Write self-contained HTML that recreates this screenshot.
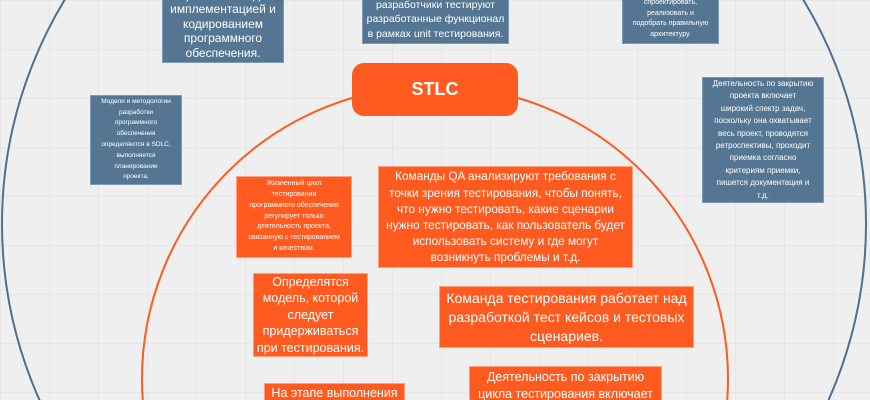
<!DOCTYPE html>
<html><head><meta charset="utf-8"><style>
html,body{margin:0;width:870px;height:400px;overflow:hidden}
body{background:#efefef;
background-image:linear-gradient(#e6e6e6 1px,transparent 1px),linear-gradient(90deg,#e6e6e6 1px,transparent 1px);background-size:49px 49px;
font-family:"Liberation Sans","DejaVu Sans",sans-serif;position:relative}
.b{position:absolute;box-sizing:border-box;color:#fff;text-align:center;display:flex;align-items:center;justify-content:center;overflow:hidden;white-space:nowrap}
.bl{background:#557693;border:1px solid #7f9ab3}
.or{background:#ff5a1f;border:1px solid #ffa07f}
svg{position:absolute;left:0;top:0}
</style></head><body>
<svg width="870" height="400">
<circle cx="434" cy="224" r="432" fill="none" stroke="#4f6f8f" stroke-width="2"/>
<circle cx="435" cy="379" r="293" fill="none" stroke="#ff5a1f" stroke-width="2"/>
</svg>
<div class="b bl" style="left:162px;top:-20px;width:122px;height:83px;font-size:12px;line-height:14.5px;align-items:flex-end;padding-bottom:2px">работает над<br>имплементацией и<br>кодированием<br>программного<br>обеспечения.</div>
<div class="b bl" style="left:362px;top:-10px;width:147px;height:54px;font-size:10.5px;line-height:14.5px;align-items:flex-end;padding-bottom:2px">разработчики тестируют<br>разработанные функционал<br>в рамках unit тестирования.</div>
<div class="b bl" style="left:622px;top:-10px;width:97px;height:54px;font-size:7px;line-height:10.5px;align-items:flex-end;padding-bottom:3px">спроектировать,<br>реализовать и<br>подобрать правильную<br>архитектуру.</div>
<div class="b bl" style="left:702px;top:77px;width:122px;height:126px;font-size:8px;line-height:12.4px">Деятельность по закрытию<br>проекта включает<br>широкий спектр задач,<br>поскольку она охватывает<br>весь проект, проводятся<br>ретроспективы, проходит<br>приемка согласно<br>критериям приемки,<br>пишется документация и<br>т.д.</div>
<div class="b bl" style="left:90px;top:95px;width:92px;height:90px;font-size:6.5px;line-height:10.8px">Модели и методологии<br>разработки<br>программного<br>обеспечения<br>определяются в SDLC,<br>выполняется<br>планирование<br>проекта.</div>
<div class="b or" style="left:352px;top:63px;width:166px;height:53px;border-radius:12px;border:none;font-size:18px;font-weight:bold">STLC</div>
<div class="b or" style="left:236px;top:176px;width:116px;height:82px;font-size:7px;line-height:10.8px">Жизненный цикл<br>тестирования<br>программного обеспечения<br>регулирует только<br>деятельность проекта,<br>связанную с тестированием<br>и качеством.</div>
<div class="b or" style="left:378px;top:166px;width:255px;height:102px;font-size:11.8px;line-height:16.2px">Команды QA анализируют требования с<br>точки зрения тестирования, чтобы понять,<br>что нужно тестировать, какие сценарии<br>нужно тестировать, как пользователь будет<br>использовать систему и где могут<br>возникнуть проблемы и т.д.</div>
<div class="b or" style="left:253px;top:273px;width:115px;height:84px;font-size:12.5px;line-height:16.5px">Определятся<br>модель, которой<br>следует<br>придерживаться<br>при тестирования.</div>
<div class="b or" style="left:439px;top:286px;width:255px;height:62px;font-size:14px;line-height:19px">Команда тестирования работает над<br>разработкой тест кейсов и тестовых<br>сценариев.</div>
<div class="b or" style="left:469px;top:366px;width:193px;height:34px;font-size:12.5px;line-height:17px;align-items:flex-start;padding-top:2px;border-bottom:none">Деятельность по закрытию<br>цикла тестирования включает</div>
<div class="b or" style="left:264px;top:383px;width:141px;height:17px;font-size:12.5px;line-height:17px;align-items:flex-start;padding-top:1px;border-bottom:none">На этапе выполнения</div>
</body></html>
